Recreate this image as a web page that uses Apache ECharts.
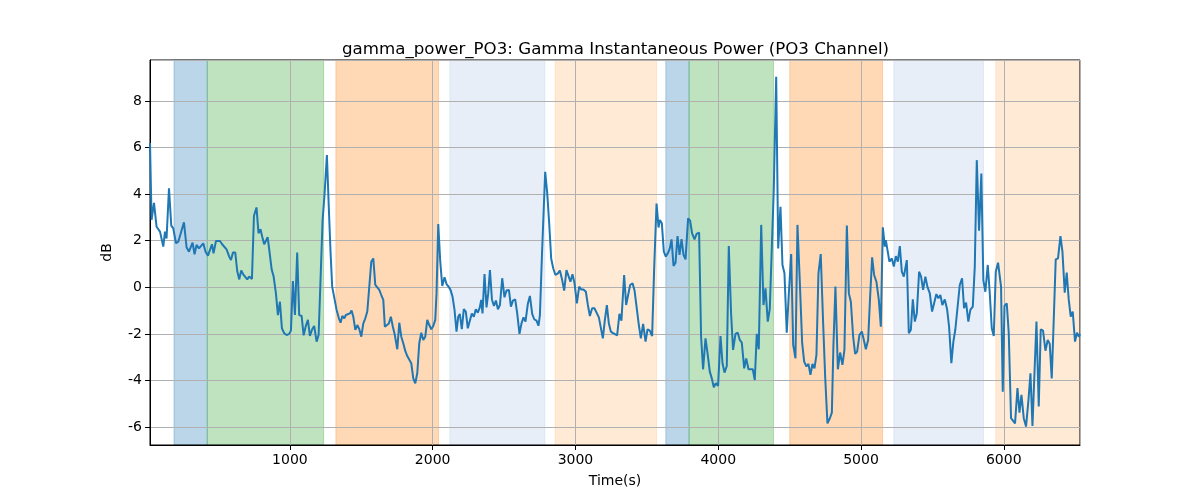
<!DOCTYPE html>
<html>
<head>
<meta charset="utf-8">
<script src="https://cdn.jsdelivr.net/npm/echarts@6/dist/echarts.min.js"></script>
<style>html,body{margin:0;padding:0;background:#fff}#c{width:1200px;height:500px}</style>
</head>
<body>
<div id="c"></div>
<script>
const titleText = 'gamma_power_PO3: Gamma Instantaneous Power (PO3 Channel)';
const xName = 'Time(s)';
const yName = 'dB';
const xMin = 20, xMax = 6534;
const yMin = -6.77, yMax = 9.76;

const times = [
 20,31,48,66,90,101,113,125,136,153,169,183,202,218,234,246,258,276,293,304,
 318,332,346,363,377,393,409,426,440,454,465,482,496,510,524,538,556,575,587,601,
 617,631,645,659,673,687,701,715,734,748,766,780,794,806,820,832,844,855,872,886,
 902,916,930,944,960,977,995,1007,1021,1035,1051,1065,1082,1096,1110,1126,1140,1156,1170,1187,1201,
 1210,1229,1243,1259,1273,1285,1296,1313,1327,1343,1355,1367,1381,1392,1406,1420,1432,1444,1458,1472,
 1486,1500,1514,1528,1542,1556,1570,1584,1598,1612,1626,1640,1654,1665,1679,1693,1707,1721,1735,1752,
 1766,1780,1794,1808,1822,1836,1850,1864,1878,1892,1906,1920,1934,1948,1962,1976,1990,2004,2018,2027,
 2039,2053,2067,2083,2097,2111,2125,2139,2153,2167,2179,2190,2204,2218,2232,2246,2260,2274,2288,2302,
 2316,2330,2340,2349,2363,2377,2389,
 2401,2415,2429,2443,2457,2471,2487,2503,2517,2534,2548,2562,2578,2592,2608,2622,2636,2650,2667,2681,
 2697,2711,2727,2741,2751,2765,2788,2802,2816,2830,2844,2860,2877,2891,2907,2921,2937,2951,2965,2979,
 2993,3010,3026,3040,3056,3073,3087,3101,3117,3133,3147,3164,3178,3192,3206,3220,3234,3248,3264,3278,
 3292,3308,3322,3341,3355,3369,3383,3400,3414,3428,3444,3458,3474,3491,3505,3521,3537,3551,3568,3582,
 3591,3605,3619,3633,3647,3661,3673,3687,3701,3715,3729,3743,3757,3771,3778,3789,3803,3817,3834,3848,
 3866,3880,3894,3911,3925,3941,3955,3969,3983,3999,4016,4030,4044,4060,4074,4090,4104,4121,4137,4151,
 4165,4182,4196,4212,4226,4242,4256,4270,4284,4301,4317,4331,4347,4361,4375,4389,4406,4420,4436,4450,
 4464,4480,4494,4511,4525,4541,4555,4571,4588,4602,4618,4632,4646,4660,4674,4688,4702,4718,4735,4749,4765,
 4782,4796,4807,4821,4838,4854,4870,4884,4901,4915,4929,4945,4959,4973,4989,5006,5020,5034,5050,5064,
 5078,5092,5108,5125,5139,5153,5167,5174,5188,5199,5216,5230,5244,5258,5272,5286,5300,5309,5321,5335,
 5349,5363,5377,5391,5407,5421,5435,5451,5465,5482,5498,5512,5528,5542,5556,5570,5587,5603,5617,5633,
 5647,5661,5675,5692,5708,5722,5736,5752,5766,5783,5797,5811,5827,5843,5857,5871,5888,5902,5916,5930,
 5944,5960,
 5981,5993,6005,6021,6035,6051,6065,6079,6096,6110,6124,6140,6156,6173,6187,6201,6215,6229,6245,6259,
 6275,6292,6308,6322,6336,6350,6364,6380,6397,6411,6427,6441,6455,6469,6483,6499,6513,6527,6534
];

const power = [
 6.2,2.9,3.63,2.6,2.39,2.32,1.75,2.39,2.1,4.25,2.65,2.53,1.89,1.96,2.29,2.29,2.79,1.72,1.53,1.6,
 1.92,1.42,1.82,1.67,1.75,1.89,1.53,1.36,1.36,1.85,1.46,1.99,1.92,1.99,1.86,1.85,1.63,1.32,1.17,1.49,
 1.5,0.7,0.34,0.72,0.56,0.6,0.34,0.46,0.36,3.06,3.43,2.32,2.49,2.17,1.85,1.82,2.15,1.63,0.77,0.46,
 -0.26,-1.19,-0.62,-1.76,-1.97,-2.05,-2.0,-1.86,0.27,-1.19,1.49,-1.19,-1.23,-2.06,-1.69,-1.4,-2.09,-1.8,-1.66,-2.33,-2.05,
 -2.0,2.89,4.03,5.68,3.32,1.46,0.03,-0.52,-0.97,-1.33,-1.52,-1.23,-1.33,-1.19,-1.19,-1.12,-1.0,-1.26,-1.83,-1.62,
 -1.8,-2.12,-1.55,-1.33,-1.04,-1.0,1.1,1.24,0.1,0.03,-0.11,-0.33,-0.54,-1.69,-1.76,-1.55,-1.26,-1.69,-2.05,-2.66,
 -1.52,-2.12,-2.4,-2.73,-2.95,-2.93,-3.26,-3.91,-4.12,-3.69,-2.4,-1.95,-2.26,-2.12,-1.4,-1.62,-1.8,-1.66,-1.4,-0.26,
 2.72,1.1,0.06,0.43,0.14,0.03,-0.11,-0.4,-0.97,-1.9,-1.26,-1.14,-1.8,-0.94,-1.04,-1.76,-1.8,-1.12,-1.26,-0.94,
 -1.09,-0.86,-0.54,-1.12,0.57,-0.86,-0.26,
 0.74,-0.52,-0.8,-0.57,-0.94,-0.76,0.39,-0.43,-0.14,-0.11,-0.83,-0.57,-0.52,-1.12,-2.0,-1.55,-1.29,-1.47,-0.69,-0.37,
 -1.14,-1.37,-1.43,-1.65,-1.19,1.32,4.96,4.06,2.75,1.24,0.82,0.53,0.6,0.72,0.31,-0.14,0.74,0.49,0.24,0.56,
 0.2,-0.69,0.03,-0.09,-0.09,-0.19,-0.76,-1.23,-0.9,-0.9,-0.94,-1.29,-1.33,-2.19,-1.4,-0.76,-1.55,-1.9,-1.97,-1.95,
 -2.06,-1.14,-1.43,0.53,-0.76,-0.69,0.1,0.17,-0.14,-0.83,-1.62,-2.19,-1.57,-2.33,-1.8,-1.86,-2.09,0.74,3.6,2.57,
 2.89,2.75,1.53,1.32,1.46,1.67,2.06,0.92,1.06,2.2,1.39,2.07,1.39,1.2,1.17,2.96,2.86,2.32,2.06,2.29,
 2.35,-2.12,-3.52,-2.19,-2.83,-3.62,-3.91,-4.29,-4.12,-4.23,-2.09,-3.26,-3.66,-3.38,1.77,-1.12,-2.69,-2.0,-1.95,-2.26,
 -2.37,-3.48,-3.05,-3.52,-3.58,-3.52,-3.98,-2.0,-2.66,2.68,-0.76,-0.04,-1.47,-0.94,-0.9,4.18,9.04,1.67,3.46,0.96,
 0.6,-1.95,-0.33,1.43,-2.47,-3.05,2.68,0.31,-2.4,-3.19,-3.4,-3.29,-3.76,-3.29,-3.48,-2.9,0.6,1.43,-1.55,-3.83,-5.84,
 -5.62,-5.38,-2.47,0.03,-3.52,-2.8,-3.33,-2.69,2.65,-0.26,-0.62,-2.12,-2.86,-2.76,-2.05,-1.9,-2.26,-2.66,-2.26,-0.4,
 1.29,0.53,0.24,-0.54,-1.69,2.58,1.75,2.03,2.1,1.1,1.24,0.89,1.34,1.1,1.77,0.67,0.46,0.53,1.17,-1.97,
 -1.83,-0.52,-1.47,-1.12,0.67,0.46,-0.11,0.46,0.03,-0.26,-1.04,-1.0,-0.29,-0.47,-0.33,-0.76,-0.52,-0.94,-1.69,-3.26,
 -2.33,-1.8,-1.83,0.1,0.39,-0.9,-0.66,-1.47,-0.97,-0.83,0.89,5.46,2.43,4.89,0.31,-0.19,0.96,-0.26,-1.76,-2.09,
 0.67,1.06,
 0.03,-4.48,-0.8,-0.69,-1.97,-5.62,-5.67,-5.84,-4.33,-5.38,-4.62,-5.62,-5.98,-4.84,-3.69,-5.95,-5.98,-1.47,-5.12,-1.8,
 -1.86,-2.72,-2.26,-2.43,-3.91,-1.4,1.2,1.24,2.2,1.53,-0.23,0.63,-0.52,-1.26,-1.04,-2.33,-1.95,-2.12,-2.0
];

const spanStart = [188, 421, 1322, 2120, 2858, 3633, 3796, 4501, 5230, 5944];
const spanEnd   = [421, 1236, 2041, 2786, 3568, 3796, 4387, 5151, 5858, 6534];
const spanColor = ['#1f77b4','#2ca02c','#ff7f0e','#aec7e8','#ffbb78','#1f77b4','#2ca02c','#ff7f0e','#aec7e8','#ffbb78'];

const lineData = times.map((t, i) => [t, power[i]]);
const areas = spanStart.map((s, i) => [
  {xAxis: s, itemStyle: {color: spanColor[i], opacity: 0.3, borderColor: spanColor[i], borderWidth: 1}},
  {xAxis: spanEnd[i]}
]);

const font = 'DejaVu Sans';
const chart = echarts.init(document.getElementById('c'), null, {renderer: 'canvas'});
chart.setOption({
  animation: false,
  backgroundColor: '#ffffff',
  title: {
    text: titleText, left: 337, top: 36,
    textStyle: {fontFamily: font, fontSize: 16.67, fontWeight: 'normal', color: '#000'}
  },
  grid: {left: 150, right: 120, top: 60, bottom: 55, show: true, borderColor: '#000', borderWidth: 1, backgroundColor: 'transparent', z: 2},
  xAxis: {
    type: 'value', min: xMin, max: xMax, splitNumber: 5, z: 2,
    name: xName, nameLocation: 'middle', nameGap: 29,
    nameTextStyle: {fontFamily: font, fontSize: 14, color: '#000'},
    axisLine: {show: true, onZero: false, lineStyle: {color: '#000', width: 1}},
    axisTick: {show: true, inside: false, length: 5, lineStyle: {color: '#000'}},
    axisLabel: {fontFamily: font, fontSize: 14, color: '#000', margin: 8, showMinLabel: false, showMaxLabel: false,
      formatter: v => String(v)},
    splitLine: {show: true, lineStyle: {color: '#b0b0b0', width: 1}}
  },
  yAxis: {
    type: 'value', min: yMin, max: yMax, splitNumber: 8, z: 2,
    name: yName, nameLocation: 'middle', nameGap: 36, nameRotate: 90,
    nameTextStyle: {fontFamily: font, fontSize: 14, color: '#000'},
    axisLine: {show: true, onZero: false, lineStyle: {color: '#000', width: 1}},
    axisTick: {show: true, inside: false, length: 5, lineStyle: {color: '#000'}},
    axisLabel: {fontFamily: font, fontSize: 14, color: '#000', margin: 8, showMinLabel: false, showMaxLabel: false,
      formatter: v => String(v)},
    splitLine: {show: true, lineStyle: {color: '#b0b0b0', width: 1}}
  },
  series: [{
    type: 'line',
    data: [],
    z: 1,
    markArea: {silent: true, z: 1, data: areas}
  }, {
    type: 'line',
    data: lineData,
    showSymbol: false,
    symbol: 'none',
    lineStyle: {color: '#1f77b4', width: 2},
    z: 3
  }]
});
</script>
</body>
</html>
